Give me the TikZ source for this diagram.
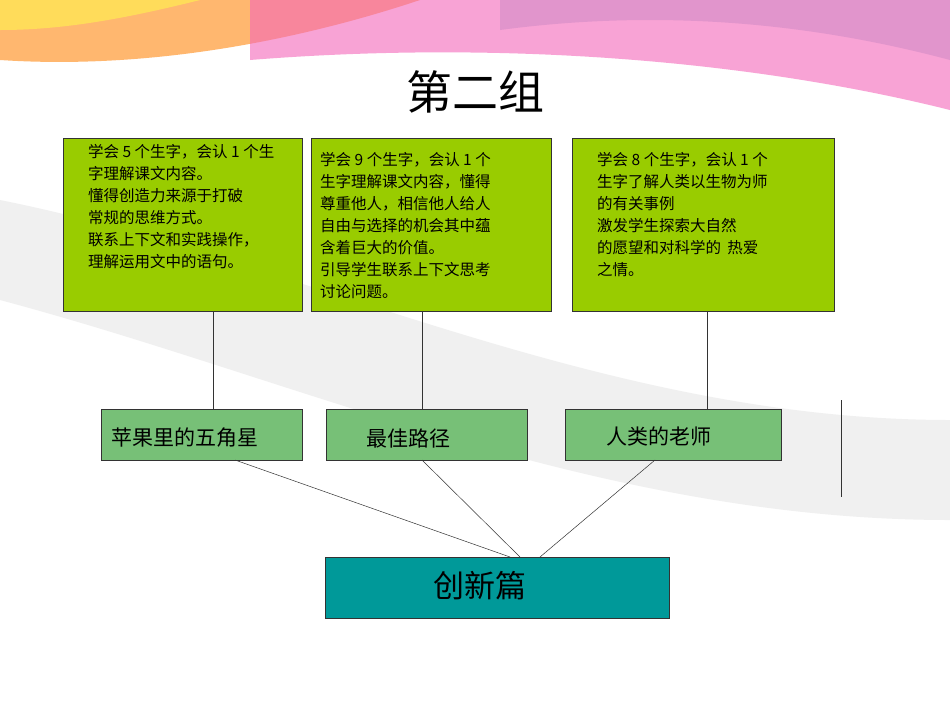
\documentclass[tikz,border=0pt]{standalone}
\usepackage{fontspec}
\newfontfamily\cjk{Noto Sans CJK SC}
\begin{document}
\begin{tikzpicture}[x=1pt,y=-1pt,
 tbox/.style={draw=black!80,fill={rgb,255:red,153;green,204;blue,0},line width=0.6pt},
 mbox/.style={draw=black!80,fill={rgb,255:red,119;green,192;blue,119},line width=0.6pt},
 bbox/.style={draw=black!80,fill={rgb,255:red,0;green,153;blue,153},line width=0.6pt},
 txt/.style={anchor=north west,align=left,font=\cjk\fontsize{15.5}{22}\selectfont,inner sep=0pt},
 lab/.style={font=\cjk\fontsize{21}{23}\selectfont,inner sep=0pt},
 conn/.style={draw=black!80,line width=0.5pt}]
\useasboundingbox (0,0) rectangle (950,713);
\fill[white] (0,0) rectangle (950,713);
% decorative background
\fill[orange!70,opacity=0.8] (0,0) -- (420,0) .. controls (300,40) and (150,70) .. (0,60) -- cycle;
\fill[magenta!60,opacity=0.6] (250,0) -- (950,0) -- (950,110) .. controls (750,60) and (500,40) .. (250,60) -- cycle;
\fill[violet!50,opacity=0.4] (500,0) -- (950,0) -- (950,60) .. controls (800,20) and (650,10) .. (500,30) -- cycle;
\fill[yellow!70,opacity=0.6] (0,0) -- (200,0) .. controls (120,20) and (60,30) .. (0,30) -- cycle;
\fill[gray!12] (0,200) .. controls (300,260) and (600,420) .. (950,420) -- (950,520) .. controls (600,520) and (300,380) .. (0,300) -- cycle;
\node[font=\cjk\fontsize{46}{48}\selectfont] (title) at (475,92) {第二组};
% top boxes
\node[tbox,minimum width=239pt,minimum height=173pt,anchor=north west] (b1) at (63,138) {};
\node[tbox,minimum width=240pt,minimum height=173pt,anchor=north west] (b2) at (311,138) {};
\node[tbox,minimum width=262pt,minimum height=173pt,anchor=north west] (b3) at (572,138) {};
\node[txt] (t1) at (88,144) {学会 5 个生字，会认 1 个生\\字理解课文内容。\\懂得创造力来源于打破\\常规的思维方式。\\联系上下文和实践操作，\\理解运用文中的语句。};
\node[txt] (t2) at (320,152) {学会 9 个生字，会认 1 个\\生字理解课文内容，懂得\\尊重他人，相信他人给人\\自由与选择的机会其中蕴\\含着巨大的价值。\\引导学生联系上下文思考\\讨论问题。};
\node[txt] (t3) at (597,152) {学会 8 个生字，会认 1 个\\生字了解人类以生物为师\\的有关事例\\激发学生探索大自然\\的愿望和对科学的 \,热爱\\之情。};
% middle boxes
\node[mbox,minimum width=201pt,minimum height=51pt,anchor=north west] (m1) at (101,409) {};
\node[mbox,minimum width=201pt,minimum height=51pt,anchor=north west] (m2) at (326,409) {};
\node[mbox,minimum width=216pt,minimum height=51pt,anchor=north west] (m3) at (565,409) {};
\node[lab,anchor=west] (l1) at (111,438) {苹果里的五角星};
\node[lab,anchor=west] (l2) at (366,438) {最佳路径};
\node[lab,anchor=west] (l3) at (606,436) {人类的老师};
% bottom
\node[bbox,minimum width=344pt,minimum height=61pt,anchor=north west] (bt) at (325,557) {};
\node[font=\cjk\fontsize{31}{33}\selectfont] (btl) at (480,586) {创新篇};
% connectors
\coordinate (a1) at (213,311); \coordinate (a2) at (422,311); \coordinate (a3) at (707,311);
\coordinate (c1) at (213,409); \coordinate (c2) at (422,409); \coordinate (c3) at (707,409);
\draw[conn] (a1) -- (c1); \draw[conn] (a2) -- (c2); \draw[conn] (a3) -- (c3);
\coordinate (d1) at (235,460); \coordinate (d2) at (422,460); \coordinate (d3) at (655,460);
\coordinate (e1) at (510,557); \coordinate (e2) at (520,557); \coordinate (e3) at (540,557);
\draw[conn] (d1) -- (e1); \draw[conn] (d2) -- (e2); \draw[conn] (d3) -- (e3);
\coordinate (v1) at (841,400); \coordinate (v2) at (841,497);
\draw[conn] (v1) -- (v2);
\end{tikzpicture}
\end{document}
